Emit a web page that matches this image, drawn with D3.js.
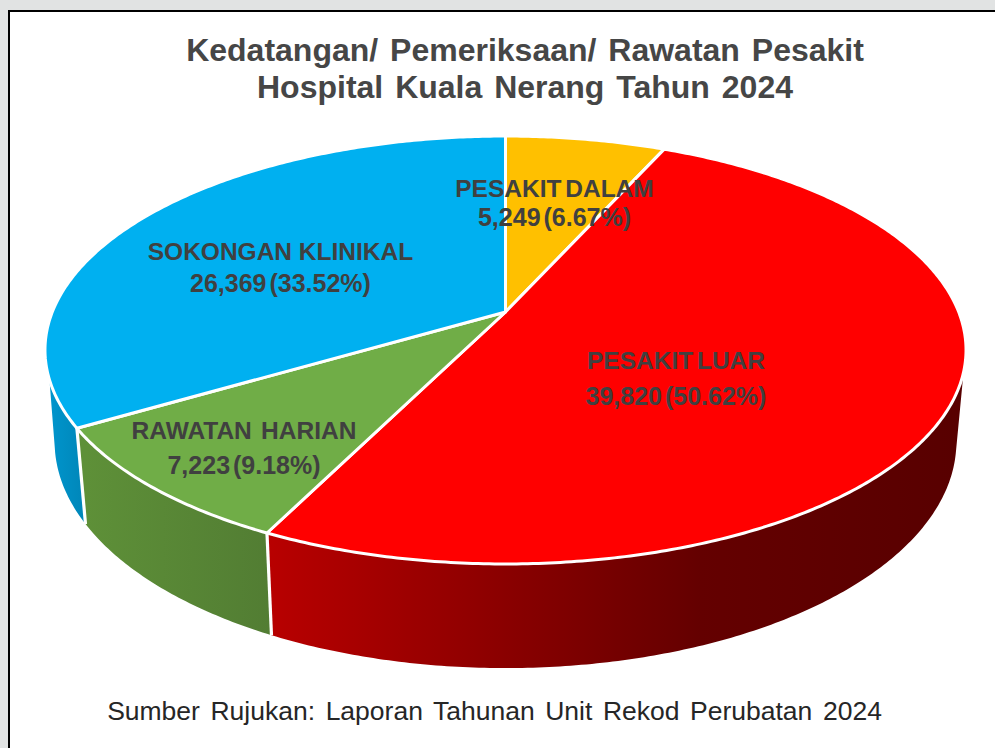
<!DOCTYPE html>
<html><head><meta charset="utf-8">
<script src="https://cdn.jsdelivr.net/npm/d3@7/dist/d3.min.js"></script>
<style>html,body{margin:0;padding:0;background:#e1e3e3;overflow:hidden}svg{display:block}</style>
</head><body><svg id="c" width="995" height="748"></svg>
<script>
const categories = ["PESAKIT DALAM","PESAKIT LUAR","RAWATAN HARIAN","SOKONGAN KLINIKAL"];
const values = [5249,39820,7223,26369];
const topColors = ["#FFC000","#FF0000","#70AD47","#00B0F0"];
const wallStops = [["#CC9A00","#B38600"],["#B80000","#640000","#580000"],["#5E9038","#527D33"],["#0096CE","#0086B8"]];
const titleLines = ["Kedatangan/ Pemeriksaan/ Rawatan Pesakit","Hospital Kuala Nerang Tahun 2024"];
const sourceText = "Sumber Rujukan: Laporan Tahunan Unit Rekod Perubatan 2024";

const svg = d3.select("#c");
// frame
svg.append("rect").attr("x",9).attr("y",11).attr("width",1000).attr("height",760)
  .attr("fill","#fff").attr("stroke","#000").attr("stroke-width",2);

// Perspective projection of the unit disc (top face and bottom face)
const topFace = {cx:505.5,cy:312,a:453.2,b:207.2,k:0.1776};
const botFace = {cx:505.5,cy:401,a:443.5,b:219,k:0.18};
const proj = (f,t)=>{const u=Math.sin(t),v=Math.cos(t),d=1+f.k*v;return [f.cx+f.a*u/d,f.cy-f.b*v/d];};
const arcPts = (f,t0,t1)=>{const n=Math.max(2,Math.ceil(Math.abs(t1-t0)/0.01));
  return d3.range(n+1).map(i=>proj(f,t0+(t1-t0)*i/n));};
const line = d3.line();

const arcs = d3.pie().sort(null).startAngle(0).endAngle(2*Math.PI)(values);
const rad = d=>d*Math.PI/180;
const defs = svg.append("defs");

const silhouetteR = {top:rad(106),bot:rad(102.7)};
const silhouetteL = {top:rad(252),bot:rad(258)};

const wallIdx = [3,2,1];
const xWall = {1:[270,700,960],2:[85,270],3:[47,85]};
wallIdx.forEach(i=>{
  const a=arcs[i];
  let tTop0=a.startAngle,tTop1=a.endAngle,tBot0=a.startAngle,tBot1=a.endAngle;
  if(i===1){tTop0=silhouetteR.top;tBot0=silhouetteR.bot;}
  if(i===3){tTop1=silhouetteL.top;tBot1=silhouetteL.bot;}
  const g=defs.append("linearGradient").attr("id","w"+i).attr("gradientUnits","userSpaceOnUse")
    .attr("x1",xWall[i][0]).attr("x2",xWall[i][xWall[i].length-1]).attr("y1",0).attr("y2",0);
  const xs=xWall[i];
  wallStops[i].forEach((c,j)=>g.append("stop")
    .attr("offset",(xs[j]-xs[0])/(xs[xs.length-1]-xs[0])).attr("stop-color",c));
  const pts=[...arcPts(topFace,tTop0,tTop1),...arcPts(botFace,tBot1,tBot0)];
  svg.append("path").attr("d",line(pts)+"Z").attr("fill",`url(#w${i})`);
  if(i===1||i===2){
    svg.append("path").attr("d",line([proj(topFace,a.endAngle),proj(botFace,a.endAngle)]))
      .attr("stroke","#fff").attr("stroke-width",3.2).attr("fill","none");
  }
});

// top faces
arcs.forEach((a,i)=>{
  const pts=[[topFace.cx,topFace.cy],...arcPts(topFace,a.startAngle,a.endAngle)];
  svg.append("path").attr("d",line(pts)+"Z").attr("fill",topColors[i])
    .attr("stroke","#fff").attr("stroke-width",3).attr("stroke-linejoin","round");
});

// title
svg.selectAll(".t").data(titleLines).join("text").attr("class","t")
  .attr("x",525).attr("y",(d,i)=>61+i*37).attr("text-anchor","middle")
  .attr("font-family","'Liberation Sans',Arial,sans-serif").attr("font-weight",700)
  .attr("font-size",32).attr("word-spacing",3).attr("fill","#464646").text(d=>d);

// labels: [x, name y, value y, name word spacing]
const labelPos = [[554.5,189,218,-3],[676,361,397,-3],[244,431,466,2.5],[280.5,252,284,0]];
const fmt = d3.format(",");
const total = d3.sum(values);
categories.forEach((c,i)=>{
  const p=labelPos[i];
  const base=(fs)=>svg.append("text").attr("x",p[0]).attr("text-anchor","middle")
    .attr("font-family","'Liberation Sans',Arial,sans-serif").attr("font-weight",700)
    .attr("font-size",fs).attr("fill","#404040");
  base(24.5).attr("y",p[1]+8).attr("word-spacing",p[3]).text(c);
  base(25).attr("y",p[2]+8).attr("word-spacing",-4).text(`${fmt(values[i])} (${(values[i]/total*100).toFixed(2)}%)`);
});

// source
svg.append("text").attr("x",494.5).attr("y",720).attr("text-anchor","middle")
  .attr("font-family","'Liberation Sans',Arial,sans-serif").attr("font-size",26.5)
  .attr("word-spacing",3.2).attr("fill","#262626").text(sourceText);
</script></body></html>
